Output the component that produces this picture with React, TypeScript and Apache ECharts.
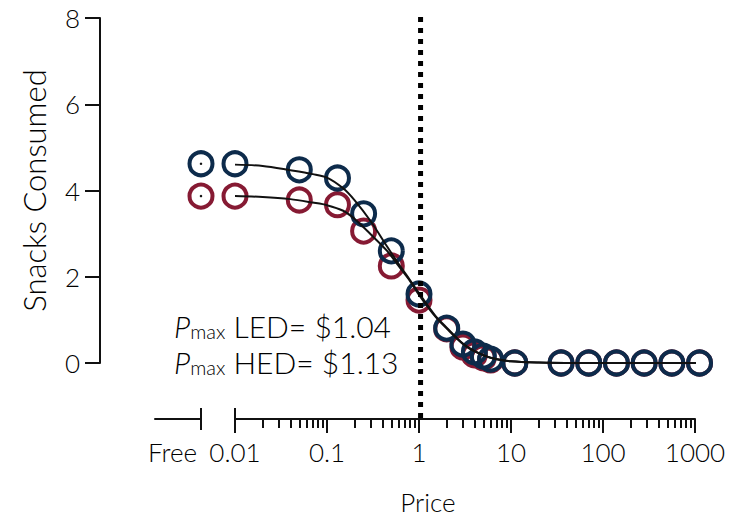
import React, { useEffect, useRef } from 'react';
import * as echarts from 'echarts';

// Purchase-task prices (USD) on the log axis; "Free" is plotted on its own segment
const prices = [0.01, 0.05, 0.13, 0.25, 0.5, 1, 2, 3, 4, 5, 6, 11, 35, 70, 140, 280, 560, 1120];

// Mean consumption at each price
const ledFree = 4.62;
const hedFree = 3.87;
const ledValues = [4.62, 4.48, 4.29, 3.46, 2.6, 1.6, 0.81, 0.44, 0.26, 0.16, 0.09, 0, 0, 0, 0, 0, 0, 0];
const hedValues = [3.87, 3.78, 3.67, 3.06, 2.25, 1.46, 0.79, 0.37, 0.19, 0.12, 0.07, 0, 0, 0, 0, 0, 0, 0];

// Fitted demand curves
const curvePrices = [0.01, 0.02, 0.04, 0.07, 0.1, 0.15, 0.2, 0.3, 0.45, 0.6, 0.8, 1, 1.5, 2, 3, 4, 6, 10, 20, 50, 1120];
const ledCurve = [4.6, 4.57, 4.47, 4.38, 4.3, 4.05, 3.77, 3.28, 2.7, 2.3, 1.92, 1.62, 1.1, 0.82, 0.45, 0.28, 0.12, 0.04, 0.01, 0, 0];
const hedCurve = [3.87, 3.85, 3.8, 3.72, 3.66, 3.53, 3.34, 2.98, 2.6, 2.25, 1.9, 1.58, 1.08, 0.8, 0.44, 0.27, 0.12, 0.04, 0.01, 0, 0];

// Breakpoint prices
const pmaxLED = 1.04;
const pmaxHED = 1.13;

// Axis ticks
const xTickValues = [0.01, 0.1, 1, 10, 100, 1000];
const xTickLabels = ['0.01', '0.1', '1', '10', '100', '1000'];
const freeLabel = 'Free';

const NAVY = '#0d2b4b';
const RED = '#861a33';
const INK = '#111111';
const TEXT = '#000000';
const FONT = 'Lato';
const WEIGHT = 300;
const AXIS_OFFSET = 56;

export default function App() {
  const ref = useRef<HTMLDivElement>(null);

  useEffect(() => {
    if (!ref.current) return;
    const chart = echarts.init(ref.current, undefined, { renderer: 'svg' });

    const labelFor = (v: number) => {
      const i = xTickValues.findIndex((t) => Math.abs(Math.log10(t / v)) < 1e-6);
      return i >= 0 ? xTickLabels[i] : '';
    };

    const circle = (color: string) => ({
      color: 'rgba(0,0,0,0)',
      borderColor: color,
      borderWidth: 4,
      opacity: 1,
    });

    const axisLine = { show: true, onZero: false, lineStyle: { color: INK, width: 2 } };
    const labelStyle = { fontFamily: FONT, fontWeight: WEIGHT, fontSize: 26, color: TEXT };

    chart.setOption({
      animation: false,
      backgroundColor: '#ffffff',
      textStyle: { fontFamily: FONT, fontWeight: WEIGHT },
      grid: [
        { left: 235, right: 40, top: 18, bottom: 166 },
        { left: 155, width: 46, top: 18, bottom: 166 },
        { left: 235, right: 40, top: 17, bottom: 108 },
      ],
      xAxis: [
        {
          gridIndex: 0,
          type: 'log',
          logBase: 10,
          min: 0.01,
          max: 1000,
          offset: AXIS_OFFSET,
          axisLine,
          axisTick: { show: true, length: 14, lineStyle: { color: INK, width: 2 } },
          minorTick: { show: true, splitNumber: 9, length: 9, lineStyle: { color: INK, width: 2 } },
          splitLine: { show: false },
          minorSplitLine: { show: false },
          axisLabel: { ...labelStyle, margin: 20, formatter: labelFor },
          name: 'Price',
          nameLocation: 'middle',
          nameGap: 70,
          nameTextStyle: { ...labelStyle, padding: [0, 74, 0, 0] },
        },
        {
          gridIndex: 1,
          type: 'category',
          data: ['', freeLabel],
          boundaryGap: false,
          offset: AXIS_OFFSET,
          axisLine,
          axisTick: { show: true, length: 11, interval: (i: number) => i === 1, lineStyle: { color: INK, width: 2 } },
          axisLabel: { ...labelStyle, margin: 20, align: 'right', padding: [0, 4, 0, 0], interval: (i: number) => i === 1 },
          splitLine: { show: false },
        },
        { gridIndex: 2, type: 'log', logBase: 10, min: 0.01, max: 1000, show: false },
      ],
      yAxis: [
        {
          gridIndex: 0,
          type: 'value',
          min: 0,
          max: 8,
          interval: 2,
          offset: 135,
          axisLine,
          axisTick: { show: true, length: 15, lineStyle: { color: INK, width: 2 } },
          axisLabel: { ...labelStyle, margin: 20 },
          splitLine: { show: false },
          name: 'Snacks Consumed',
          nameLocation: 'middle',
          nameGap: 51,
          nameTextStyle: { ...labelStyle, fontSize: 31 },
        },
        { gridIndex: 1, type: 'value', min: 0, max: 8, show: false },
        { gridIndex: 2, type: 'value', min: 0, max: 1, show: false },
      ],
      series: [
        {
          name: 'HED',
          type: 'scatter',
          xAxisIndex: 0,
          yAxisIndex: 0,
          clip: false,
          symbolSize: 23,
          itemStyle: circle(RED),
          data: prices.map((p, i) => [p, hedValues[i]]),
          z: 2,
        },
        {
          name: 'LED',
          type: 'scatter',
          xAxisIndex: 0,
          yAxisIndex: 0,
          clip: false,
          symbolSize: 23,
          itemStyle: circle(NAVY),
          data: prices.map((p, i) => [p, ledValues[i]]),
          z: 3,
        },
        {
          name: 'HED free',
          type: 'scatter',
          xAxisIndex: 1,
          yAxisIndex: 1,
          clip: false,
          symbolSize: 23,
          itemStyle: circle(RED),
          data: [[1, hedFree]],
          z: 2,
        },
        {
          name: 'LED free',
          type: 'scatter',
          xAxisIndex: 1,
          yAxisIndex: 1,
          clip: false,
          symbolSize: 23,
          itemStyle: circle(NAVY),
          data: [[1, ledFree]],
          z: 3,
        },
        {
          name: 'free centres',
          type: 'scatter',
          xAxisIndex: 1,
          yAxisIndex: 1,
          clip: false,
          symbolSize: 2.5,
          itemStyle: { color: INK, opacity: 1 },
          data: [[1, ledFree], [1, hedFree]],
          z: 4,
        },
        {
          name: 'LED fit',
          type: 'line',
          xAxisIndex: 0,
          yAxisIndex: 0,
          clip: false,
          smooth: 0.3,
          showSymbol: false,
          lineStyle: { color: INK, width: 2 },
          data: curvePrices.map((p, i) => [p, ledCurve[i]]),
          z: 5,
        },
        {
          name: 'HED fit',
          type: 'line',
          xAxisIndex: 0,
          yAxisIndex: 0,
          clip: false,
          smooth: 0.3,
          showSymbol: false,
          lineStyle: { color: INK, width: 2 },
          data: curvePrices.map((p, i) => [p, hedCurve[i]]),
          z: 5,
        },
        {
          name: 'Pmax',
          type: 'line',
          xAxisIndex: 2,
          yAxisIndex: 2,
          clip: false,
          showSymbol: false,
          lineStyle: { color: '#000000', width: 5, type: [5, 6], cap: 'butt' },
          data: [[pmaxLED, 1], [pmaxLED, 0]],
          z: 6,
        },
      ],
    });

    // Upward halves of the end ticks at the axis break
    const freePx = chart.convertToPixel({ xAxisIndex: 1, yAxisIndex: 1 }, [1, 0]) as number[];
    const startPx = chart.convertToPixel({ xAxisIndex: 0, yAxisIndex: 0 }, [xTickValues[0], 0]) as number[];
    const axisY = startPx[1] + AXIS_OFFSET;

    const rich = {
      p: { fontFamily: FONT, fontWeight: WEIGHT, fontSize: 30, fontStyle: 'italic', color: TEXT },
      s: { fontFamily: FONT, fontWeight: WEIGHT, fontSize: 20, color: TEXT, padding: [9, 0, 0, 0] },
      t: { fontFamily: FONT, fontWeight: WEIGHT, fontSize: 30, color: TEXT },
    };

    chart.setOption({
      graphic: [
        {
          type: 'line',
          shape: { x1: freePx[0], y1: axisY - 11, x2: freePx[0], y2: axisY },
          style: { stroke: INK, lineWidth: 2 },
        },
        {
          type: 'line',
          shape: { x1: startPx[0], y1: axisY - 11, x2: startPx[0], y2: axisY },
          style: { stroke: INK, lineWidth: 2 },
        },
        {
          type: 'text',
          x: 174,
          y: 308,
          style: {
            text:
              `{p|P}{s|max}{t| LED= $${pmaxLED.toFixed(2)}}\n` +
              `{p|P}{s|max}{t| HED= $${pmaxHED.toFixed(2)}}`,
            rich,
            lineHeight: 36,
            fill: TEXT,
          },
        },
      ],
    });

    return () => chart.dispose();
  }, []);

  return <div ref={ref} style={{ position: 'fixed', left: 0, top: 0, width: 735, height: 529 }} />;
}
